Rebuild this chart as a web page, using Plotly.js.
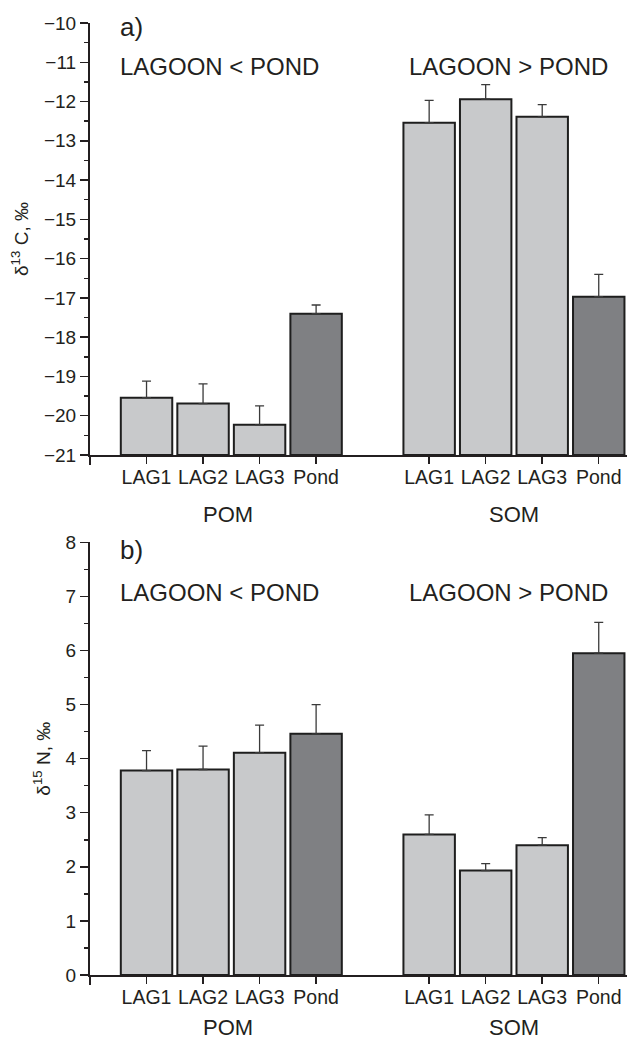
<!DOCTYPE html>
<html>
<head>
<meta charset="utf-8">
<script src="https://cdn.plot.ly/plotly-3.0.1.min.js"></script>
<style>html,body{margin:0;padding:0;background:#fff;}#chart{width:633px;height:1042px;}</style>
</head>
<body>
<div id="chart"></div>
<script>
// ---- data ----
const sites = ['LAG1', 'LAG2', 'LAG3', 'Pond'];
const fractions = ['POM', 'SOM'];

const d13C_POM    = [-19.54, -19.69, -20.23, -17.40];
const d13C_POM_sd = [0.42, 0.50, 0.48, 0.22];
const d13C_SOM    = [-12.54, -11.94, -12.39, -16.97];
const d13C_SOM_sd = [0.57, 0.37, 0.31, 0.57];

const d15N_POM    = [3.78, 3.80, 4.11, 4.46];
const d15N_POM_sd = [0.37, 0.43, 0.51, 0.54];
const d15N_SOM    = [2.60, 1.93, 2.40, 5.95];
const d15N_SOM_sd = [0.36, 0.13, 0.14, 0.57];

const panelLabels = ['a)', 'b)'];
const groupNotes = ['LAGOON < POND', 'LAGOON > POND'];

// ---- styling ----
const FONT = 'Liberation Sans, Arial, Helvetica, sans-serif';
const INK = '#231f20';
const LIGHT = '#c8c9cb';
const DARK = '#7f8083';

// positions: POM sites at 1..4, SOM sites at 6..9
const pos = [];
fractions.forEach((f, g) => sites.forEach((s, i) => pos.push(i + 1 + g * 5)));
const tickText = sites.concat(sites);
const colors = [];
fractions.forEach(() => sites.forEach(s => colors.push(s === 'Pond' ? DARK : LIGHT)));

function barTrace(vals, sds, base, xa, ya) {
  return {
    type: 'bar',
    x: pos,
    y: vals.map(v => v - base),
    base: base,
    width: 0.91,
    xaxis: xa, yaxis: ya,
    marker: {color: colors, line: {color: '#1e1e1e', width: 2}},
    error_y: {type: 'data', symmetric: false, array: sds, arrayminus: sds.map(() => 0),
              color: '#3a3a3a', thickness: 1.3, width: 4.5},
    showlegend: false, hoverinfo: 'skip'
  };
}

const C_BASE = -21, N_BASE = 0;
const traces = [
  barTrace(d13C_POM.concat(d13C_SOM), d13C_POM_sd.concat(d13C_SOM_sd), C_BASE, 'x', 'y'),
  barTrace(d15N_POM.concat(d15N_SOM), d15N_POM_sd.concat(d15N_SOM_sd), N_BASE, 'x2', 'y2')
];

function xAxis(anchor) {
  return {
    anchor: anchor, range: [0, 9.5], tickmode: 'array', tickvals: pos, ticktext: tickText,
    ticks: 'outside', ticklen: 7, tickwidth: 1.5, tickcolor: INK, ticklabelstandoff: -3,
    minor: {tickmode: 'array', tickvals: [0], ticks: 'outside', ticklen: 8, tickwidth: 1.5, tickcolor: INK},
    showline: true, linecolor: INK, linewidth: 2, showgrid: false, zeroline: false,
    tickfont: {family: FONT, size: 19.5, color: INK}, fixedrange: true
  };
}
function yAxis(anchor, range, domain, title) {
  return {
    anchor: anchor, range: range, domain: domain, dtick: 1,
    ticks: 'outside', ticklen: 8, tickwidth: 1.5, tickcolor: INK,
    minor: {dtick: 0.5, ticks: 'outside', ticklen: 4, tickwidth: 1.5, tickcolor: INK},
    showline: true, linecolor: INK, linewidth: 2, showgrid: false, zeroline: false,
    tickfont: {family: FONT, size: 19, color: INK},
    title: {text: title, font: {family: FONT, size: 19, color: INK}, standoff: 10},
    fixedrange: true
  };
}

const annotations = [];
function txt(text, x, y, xref, yref, size, xanchor) {
  annotations.push({text: text, x: x, y: y, xref: xref, yref: yref, showarrow: false,
    xanchor: xanchor || 'center', yanchor: 'middle', font: {family: FONT, size: size, color: INK}});
}
// panel labels and notes
txt(panelLabels[0], 0.5, -10.1, 'x', 'y', 26, 'left');
txt(groupNotes[0], 0.5, -11.12, 'x', 'y', 24, 'left');
txt(groupNotes[1], 7.41, -11.12, 'x', 'y', 24, 'center');
txt(panelLabels[1], 0.5, 7.86, 'x2', 'y2', 26, 'left');
txt(groupNotes[0], 0.5, 7.08, 'x2', 'y2', 24, 'left');
txt(groupNotes[1], 7.41, 7.08, 'x2', 'y2', 24, 'center');
// group labels under the axes
txt(fractions[0], 2.45, -0.137, 'x', 'y domain', 22);
txt(fractions[1], 7.5, -0.137, 'x', 'y domain', 22);
txt(fractions[0], 2.45, -0.122, 'x2', 'y2 domain', 22);
txt(fractions[1], 7.5, -0.122, 'x2', 'y2 domain', 22);

const layout = {
  width: 633, height: 1042,
  margin: {l: 90, r: 6, t: 23, b: 67},
  paper_bgcolor: '#fff', plot_bgcolor: '#fff',
  bargap: 0,
  xaxis: xAxis('y'),
  yaxis: yAxis('x', [-21, -10], [0.5462, 1], 'δ<sup>13</sup> C, ‰'),
  xaxis2: xAxis('y2'),
  yaxis2: yAxis('x2', [0, 8], [0, 0.4545], 'δ<sup>15</sup> N, ‰'),
  annotations: annotations,
  font: {family: FONT, color: INK}
};

Plotly.newPlot('chart', traces, layout, {displayModeBar: false, staticPlot: true});
</script>
</body>
</html>
